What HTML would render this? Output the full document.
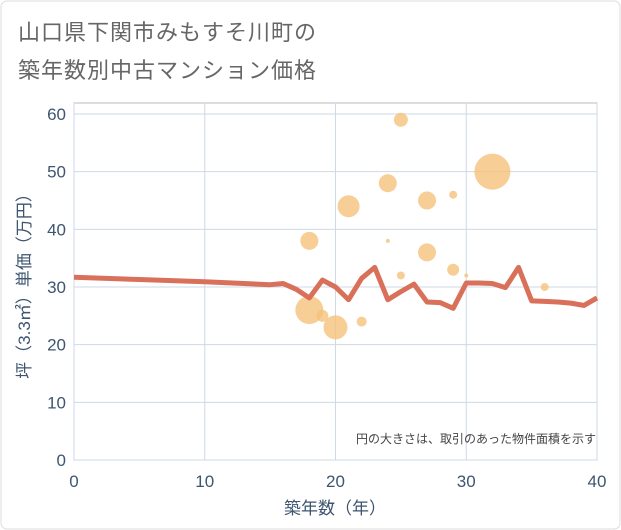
<!DOCTYPE html>
<html><head><meta charset="utf-8"><style>
body{margin:0;background:#fff;}
svg{display:block;font-family:"Liberation Sans","Noto Sans CJK JP",sans-serif;}
</style></head><body>
<svg width="621" height="530">
<rect x="1" y="1" width="619" height="528" rx="6" fill="#fff" stroke="#ddd"/>
<text x="18" y="40" font-size="22" fill="#666" letter-spacing="1">山口県下関市みもすそ川町の</text>
<text x="18" y="78" font-size="22" fill="#666" letter-spacing="1">築年数別中古マンション価格</text>
<g id="grid"></g>
<g id="marks"></g>
<text x="596" y="443" font-size="12" fill="#444" text-anchor="end">円の大きさは、取引のあった物件面積を示す</text>
<text x="335" y="514" font-size="17" fill="#3d5570" text-anchor="middle">築年数（年）</text>
<text transform="translate(30,282) rotate(-90)" font-size="17" fill="#3d5570" text-anchor="middle">坪（3.3㎡）単価（万円）</text>
</svg>
<script>
const xTicks=[0,10,20,30,40];
const yTicks=[0,10,20,30,40,50,60];
const lineAges=[0,5,10,15,16,17,18,19,20,21,22,23,24,25,26,27,28,29,30,31,32,33,34,35,36,37,38,39,40];
const linePrices=[31.7,31.3,30.9,30.4,30.6,29.6,28.1,31.2,30,27.8,31.5,33.4,27.8,29.2,30.5,27.4,27.3,26.3,30.7,30.7,30.6,29.9,33.4,27.6,27.5,27.4,27.2,26.8,28.1];
const bubbleAges=[25,32,24,21,27,29,18,24,27,25,29,30,36,18,19,20,22];
const bubblePrices=[59,50,48,44,45,46,38,38,36,32,33,32,30,26,25,23,24];
const bubbleSizes=[7,18,9,11,9,4,9,2,9,4,6,2,4,14,6,12,5];
const X0=74,X1=597,Y0=460,Y1=103;
const xs=v=>X0+(v-0)/40*(X1-X0);
const ys=v=>Y0-v/60*(Y0-114);
const NS="http://www.w3.org/2000/svg";
const g=document.getElementById('grid'),m=document.getElementById('marks');
function mk(t,a,p){const e=document.createElementNS(NS,t);for(const k in a)e.setAttribute(k,a[k]);p.appendChild(e);return e;}
const bg=mk('rect',{x:X0,y:Y1,width:X1-X0,height:Y0-Y1,fill:'#fff',stroke:'#bbb'},g);


xTicks.forEach(t=>{const l=mk('line',{x1:xs(t),x2:xs(t),y1:Y1,y2:Y0,stroke:'#cfd8e6'},g);


const tx=mk('text',{x:xs(t),y:487,'font-size':17,fill:'#3d5570','text-anchor':'middle'},g);tx.textContent=t;

});
yTicks.forEach(t=>{const l=mk('line',{x1:X0,x2:X1,y1:ys(t),y2:ys(t),stroke:'#cfd8e6'},g);


const tx=mk('text',{x:66,y:ys(t)+6,'font-size':17,fill:'#3d5570','text-anchor':'end'},g);tx.textContent=t;

});
bubbleAges.forEach((a,i)=>{const c=mk('circle',{cx:xs(a),cy:ys(bubblePrices[i]),r:bubbleSizes[i],fill:'#f5c27a','fill-opacity':0.8},m);

});
const p=mk('polyline',{points:lineAges.map((a,i)=>xs(a)+','+ys(linePrices[i])).join(' '),fill:'none',stroke:'#d9705a','stroke-width':5,'stroke-linejoin':'round'},m);


</script>
</body></html>
